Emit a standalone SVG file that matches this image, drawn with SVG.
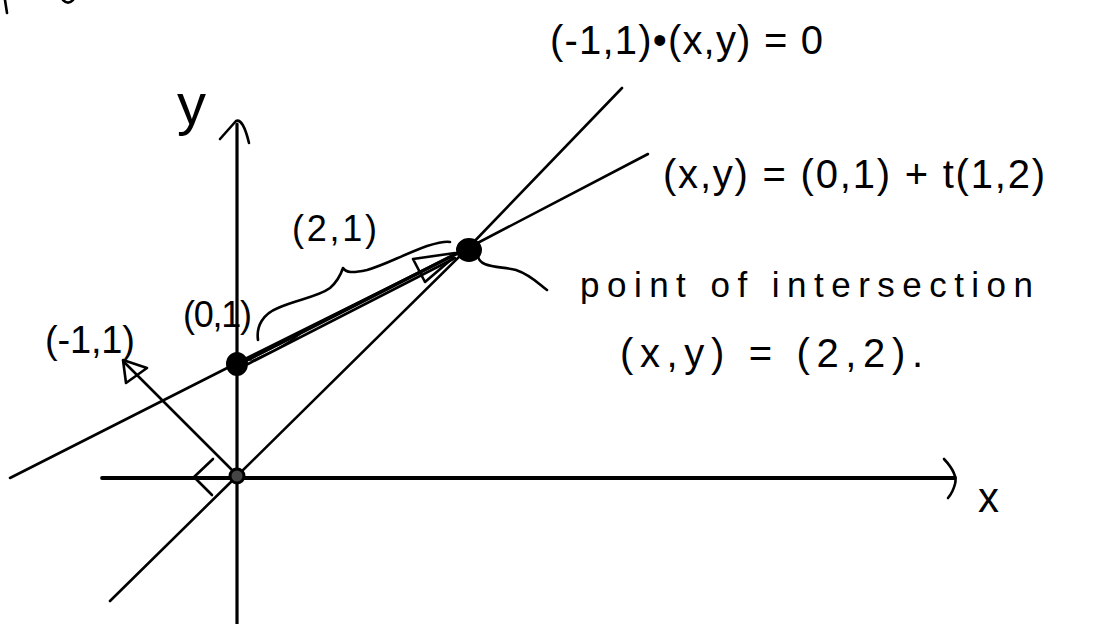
<svg xmlns="http://www.w3.org/2000/svg" width="1098" height="624" viewBox="0 0 1098 624">
<style>
.ln{fill:none;stroke:#000;stroke-width:2.6;stroke-linecap:round;stroke-linejoin:round}
.ax{fill:none;stroke:#000;stroke-width:3.2;stroke-linecap:round;stroke-linejoin:round}
.thin{fill:none;stroke:#000;stroke-width:1.8;stroke-linecap:round;stroke-linejoin:round}
.dot{fill:#000;stroke:#000;stroke-width:2}
.t{font-family:"Liberation Sans","DejaVu Sans",sans-serif;fill:#000}
</style>
<rect width="1098" height="624" fill="#fff"/>
<g id="fragments">
<path class="ln" d="M5,0 L7,13"/>
<path class="ln" d="M63,0 Q68,5 73,0"/>
</g>
<g id="axes">
<path class="ax" d="M237,124 L237,624"/>
<path class="ln" d="M220,139 L236,121 Q243,118 249,143"/>
<path class="ax" d="M102,478 L955,478" style="stroke-width:3.8"/>
<path class="ln" d="M944,459 Q958,474 955,484 Q953,492 948,498"/>
</g>
<g id="connectors">
<polyline class="ln" points="10,478 237,363 468,248 648,154"/>
<polyline class="ln" points="110,601 237,476 468,248 622,88"/>
<path class="ln" d="M236,474 L125,363"/>
<path class="ln" d="M123,360 L147,368 L126,383 Z"/>
<path class="ln" d="M213,459 L194,477 L212,495"/>
<path class="ax" d="M245,361 L458,253" style="stroke-width:3.6"/>
<path class="ln" d="M248,364 L455,258"/>
<path class="ln" d="M455,253 L413,259 L425,282 L453,258"/>
<path class="thin" d="M250,360 Q262,350 278,345 Q290,338 300,334 Q290,342 275,350 Q262,356 252,361"/>
<path class="ln" d="M258,340 C256,326 263,314 278,308 C295,300 318,297 330,288 C338,281 341,274 343,268 C346,273 353,273 367,270 C385,265 400,256 427,246 C437,243 445,241 450,242"/>
<path class="ln" d="M478,255 C478,268 500,266 516,270 C531,275 540,285 547,290"/>
</g>
<g id="point-origin"><circle cx="237" cy="476" r="7" fill="#444" stroke="#000" stroke-width="3"/></g>
<g id="point-01"><ellipse cx="237" cy="364" rx="10" ry="11" class="dot"/></g>
<g id="point-intersection"><ellipse cx="469" cy="250" rx="12" ry="11" class="dot"/></g>
<g id="labels">
<text class="t" x="177" y="124" font-size="58">y</text>
<text class="t" x="978" y="512" font-size="42">x</text>
<text class="t" x="550" y="54" font-size="40" textLength="273" lengthAdjust="spacing">(-1,1)•(x,y) = 0</text>
<text class="t" x="663" y="188" font-size="40" textLength="382" lengthAdjust="spacing">(x,y) = (0,1) + t(1,2)</text>
<text class="t" x="292" y="241" font-size="36" textLength="85" lengthAdjust="spacing">(2,1)</text>
<text class="t" x="183" y="327" font-size="36" textLength="69" lengthAdjust="spacing">(0,1)</text>
<text class="t" x="45" y="353" font-size="38" textLength="90" lengthAdjust="spacing">(-1,1)</text>
<text class="t" x="580" y="297" font-size="35" textLength="453" lengthAdjust="spacing">point of intersection</text>
<text class="t" x="620" y="367" font-size="40" textLength="303" lengthAdjust="spacing">(x,y) = (2,2).</text>
</g>
</svg>
